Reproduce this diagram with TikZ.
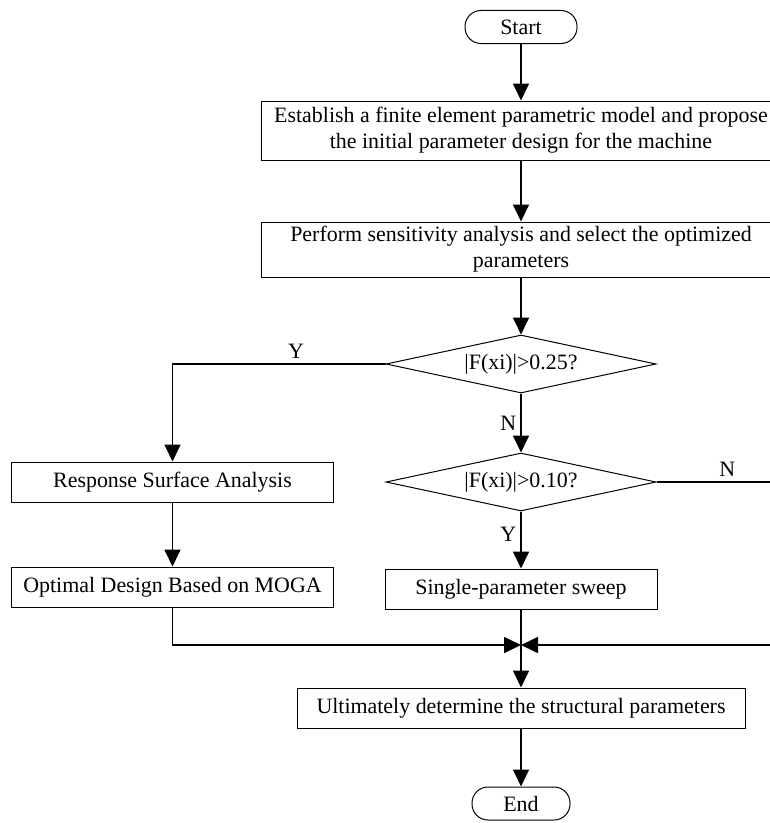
\documentclass[tikz,border=0pt]{standalone}
\usepackage{fontspec}
\setmainfont{Liberation Serif}
\usetikzlibrary{shapes.geometric,arrows.meta}

\begin{document}
\begin{tikzpicture}[x=1bp, y=-1bp,
    every node/.style={font=\fontsize{22}{26}\selectfont, inner sep=0pt},
    box/.style={draw, line width=1bp, rectangle, align=center},
    term/.style={draw, line width=1bp, rounded corners=16bp, minimum height=33bp},
    decision/.style={draw, line width=1bp, diamond, aspect=4.6, minimum width=270bp, minimum height=58bp},
    flow/.style={line width=1.7bp, -{Triangle[length=17bp, width=16bp]}},
    line/.style={line width=1.7bp}]
    % Frame of the picture, cut off at the right side
    \clip (0,0) rectangle (770,823);
    % Main column
    \node [term, minimum width=112bp] (start) at (521,27) {Start};
    \node [box, minimum width=520bp, minimum height=59bp] (model) at (521,130.5) {Establish a finite element parametric model and propose\\the initial parameter design for the machine};
    \node [box, minimum width=520bp, minimum height=55bp] (sens) at (521,249.5) {Perform sensitivity analysis and select the optimized\\parameters};
    \node [decision] (big) at (521,364) {|F(xi)|>0.25?};
    \node [decision] (small) at (521,482) {|F(xi)|>0.10?};
    \node [box, minimum width=272bp, minimum height=40bp] (sweep) at (521,589) {Single-parameter sweep};
    \coordinate (merge) at (521,645);
    \node [box, minimum width=448bp, minimum height=40bp] (final) at (521,708) {Ultimately determine the structural parameters};
    \node [term, minimum width=98bp] (end) at (521,803.5) {End};
    % Left branch
    \node [box, minimum width=321bp, minimum height=40bp] (rsa) at (172.5,482) {Response Surface Analysis};
    \node [box, minimum width=321bp, minimum height=40bp] (moga) at (172.5,587) {Optimal Design Based on MOGA};
    % Right branch, runs out of the picture
    \coordinate (outA) at (790,482);
    \coordinate (outB) at (790,645);
    % Connectors
    \draw [flow] (start) -- (model);
    \draw [flow] (model) -- (sens);
    \draw [flow] (sens) -- (big);
    \draw [flow] (big) -- node [left=4bp] {N} (small);
    \draw [flow] (small) -- node [pos=0.4, left=4bp] {Y} (sweep);
    \draw [flow] (big.west) -| node [pos=0.21, above=5bp] {Y} (rsa);
    \draw [flow] (rsa) -- (moga);
    \draw [flow] (moga) |- (merge);
    \draw [line] (small.east) -- node [pos=0.53, above=5bp] {N} (outA) -- (outB);
    \draw [flow] (outB) -- (merge);
    \draw [flow] (sweep) -- (final);
    \draw [flow] (final) -- (end);
\end{tikzpicture}
\end{document}
